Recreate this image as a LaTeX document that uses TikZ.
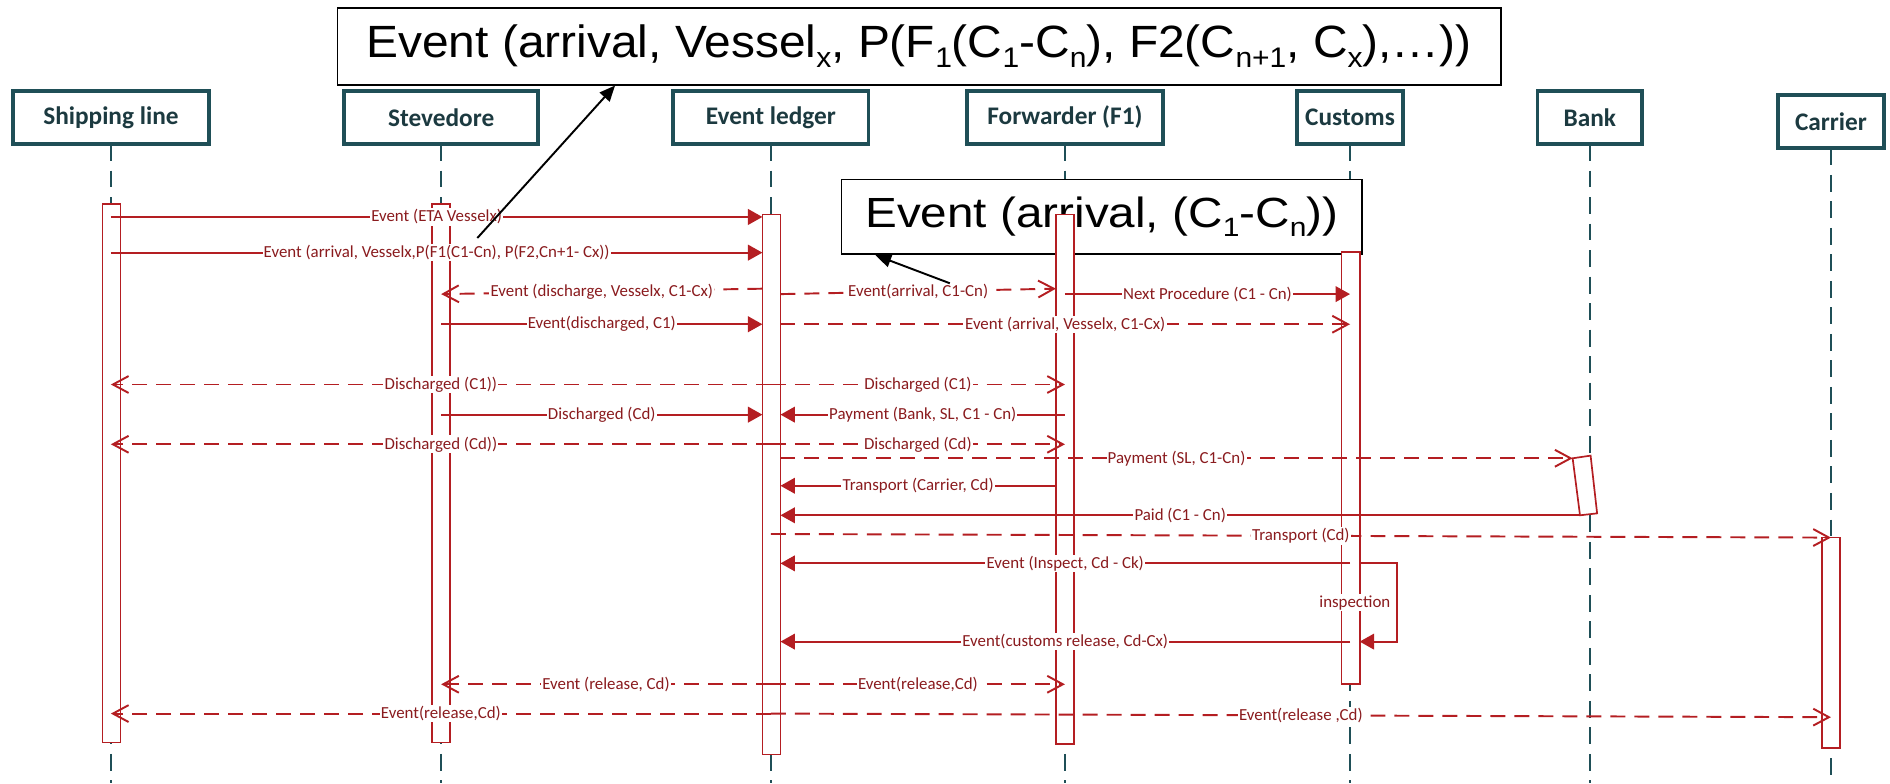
\documentclass[tikz,border=0pt]{standalone}
\usepackage{fontspec}
\setmainfont{Carlito}
\newfontfamily\notefont[FakeStretch=1.06]{Liberation Sans}
\newfontfamily\smallnotefont[FakeStretch=1.13]{Liberation Sans}
\usetikzlibrary{arrows.meta,calc}

\definecolor{actorteal}{HTML}{1F4F57}
\definecolor{actortext}{HTML}{1C3A40}
\definecolor{msgred}{HTML}{B41E22}
\definecolor{msgtext}{HTML}{8A1B1E}

% lowered, reduced index for the note texts
\newcommand{\idx}[2]{\raisebox{-0.22em}{\fontsize{#1}{#1}\selectfont #2}}

\tikzset{
  actor/.style={draw=actorteal, line width=3.2pt, fill=white, minimum height=44pt,
    inner sep=0pt, outer sep=0pt, text=actortext, font=\fontsize{21}{24}\selectfont\bfseries},
  lifeline/.style={draw=actorteal, line width=1.3pt, dash pattern=on 14pt off 8pt},
  actbar/.style={draw=msgred, line width=1.4pt, fill=white, minimum width=15pt,
    inner sep=0pt, outer sep=0pt, anchor=north},
  sync/.style={draw=msgred, line width=1.6pt, -{Triangle[length=12pt,width=13pt]}},
  reply/.style={draw=msgred, line width=1.6pt, dash pattern=on 12.4pt off 7.5pt,
    -{Straight Barb[length=13pt,width=14pt,line width=1.6pt]}},
  lbl/.style={fill=white, text=msgtext, font=\fontsize{14}{16}\selectfont, inner sep=1pt},
  notebox/.style={draw=black, line width=1.4pt, fill=white, inner sep=0pt},
  callout/.style={draw=black, line width=1.6pt, -{Triangle[length=13pt,width=11pt]}},
}

\begin{document}
\begin{tikzpicture}[x=1pt,y=-1pt]
\useasboundingbox (0,0) rectangle (1568,650);
\coordinate (bottom) at (0,650);

% participants
\node[actor, minimum width=163pt] (ship)    at (92,97.5)   {Shipping line};
\node[actor, minimum width=161pt] (steve)   at (366,97.5)  {Stevedore};
\node[actor, minimum width=162pt] (ledger)  at (639.5,97.5){Event ledger};
\node[actor, minimum width=162pt] (fwd)     at (883.5,97.5){Forwarder (F1)};
\node[actor, minimum width=88pt]  (cust)    at (1120,97.5) {Customs};
\node[actor, minimum width=87pt]  (bank)    at (1319,97.5) {Bank};
\node[actor, minimum width=88pt]  (carrier) at (1519,101)  {Carrier};

% lifelines
\foreach \a in {ship,steve,ledger,fwd,cust,bank,carrier}
  \draw[lifeline] (\a.south) -- (\a.south |- bottom);

% note on the forwarder side
\node[notebox, minimum width=432pt, minimum height=62pt] (note2) at (914,180)
  {\smallnotefont\fontsize{35}{35}\selectfont Event (arrival, (C\idx{22}{1}-C\idx{22}{n}))};

% activation bars
\node[actbar, minimum height=447pt]   (shipbar)    at (92.5,169) {};
\node[actbar, minimum height=447pt]   (stevebar)   at (366,169)  {};
\node[actbar, minimum height=448pt]   (ledgerbar)  at (640,178)  {};
\node[actbar, minimum height=439pt]   (fwdbar)     at (883.5,178){};
\node[actbar, minimum height=358.5pt] (custbar)    at (1120.5,209){};
\node[actbar, minimum height=174.5pt] (carrierbar) at (1519,446) {};
\coordinate (bankTL) at (1304.7,380.2);
\coordinate (bankTR) at (1319.6,378);
\coordinate (bankBR) at (1325,425.9);
\coordinate (bankBL) at (1310.8,427.5);
\draw[draw=msgred, line width=1.4pt, fill=white] (bankTL) -- (bankTR) -- (bankBR) -- (bankBL) -- cycle;

% message rows
\coordinate (y1)  at (0,180);
\coordinate (y2)  at (0,209.6);
\coordinate (y3a) at (0,239.5);
\coordinate (y3b) at (0,244);
\coordinate (y5)  at (0,269);
\coordinate (y6)  at (0,319);
\coordinate (y7)  at (0,344);
\coordinate (y8)  at (0,368.6);
\coordinate (y10) at (0,403);
\coordinate (y12a) at (0,443);
\coordinate (y12b) at (0,446);
\coordinate (y13) at (0,467.4);
\coordinate (y14) at (0,532.3);
\coordinate (y15) at (0,567.7);
\coordinate (y16a) at (0,592);
\coordinate (y16b) at (0,595);
\coordinate (loopx) at (1159,0);

% messages
\draw[sync] (ship |- y1) -- node[lbl]{Event (ETA Vesselx)} (ledgerbar.west |- y1);
\draw[sync] (ship |- y2) -- node[lbl]{Event (arrival, Vesselx,P(F1(C1-Cn), P(F2,Cn+1- Cx))} (ledgerbar.west |- y2);
\draw[reply] (ledgerbar.west |- y3a) -- node[lbl]{Event (discharge, Vesselx, C1-Cx)} (steve |- y3b);
\draw[reply] (ledgerbar.east |- y3b) -- node[lbl]{Event(arrival, C1-Cn)} (fwdbar.west |- y3a);
\draw[sync] (fwd |- y3b) -- node[lbl]{Next Procedure (C1 - Cn)} (cust |- y3b);
\draw[sync] (steve |- y5) -- node[lbl]{Event(discharged, C1)} (ledgerbar.west |- y5);
\draw[reply] (ledgerbar.east |- y5) -- node[lbl]{Event (arrival, Vesselx, C1-Cx)} (cust |- y5);
\draw[reply] (ledger |- y6) -- node[lbl]{Discharged (C1))} (ship |- y6);
\draw[reply] (ledger |- y6) -- node[lbl]{Discharged (C1)} (fwd |- y6);
\draw[sync] (steve |- y7) -- node[lbl]{Discharged (Cd)} (ledgerbar.west |- y7);
\draw[sync] (fwd |- y7) -- node[lbl]{Payment (Bank, SL, C1 - Cn)} (ledgerbar.east |- y7);
\draw[reply] (ledger |- y8) -- node[lbl]{Discharged (Cd))} (ship |- y8);
\draw[reply] (ledger |- y8) -- node[lbl]{Discharged (Cd)} (fwd |- y8);
\draw[reply] (ledgerbar.east |- bankTL) -- node[lbl]{Payment (SL, C1-Cn)} (bankTL);
\draw[sync] (fwdbar.west |- y10) -- node[lbl]{Transport (Carrier, Cd)} (ledgerbar.east |- y10);
\draw[sync] (bankBL) -- node[lbl]{Paid (C1 - Cn)} (ledgerbar.east |- bankBL);
\draw[reply] (ledger |- y12a) -- node[lbl]{Transport (Cd)} (carrier |- y12b);
\draw[sync] (cust |- y13) -- node[lbl]{Event (Inspect, Cd - Ck)} (ledgerbar.east |- y13);
\draw[sync] (custbar.east |- y13) -- (loopx |- y13) -- (loopx |- y14) -- (custbar.east |- y14);
\node[lbl] (insp) at (1124,500) {inspection};
\draw[sync] (cust |- y14) -- node[lbl]{Event(customs release, Cd-Cx)} (ledgerbar.east |- y14);
\draw[reply] (ledger |- y15) -- node[lbl]{Event (release, Cd)} (steve |- y15);
\draw[reply] (ledger |- y15) -- node[lbl]{Event(release,Cd)} (fwd |- y15);
\draw[reply] (ledger |- y16a) -- node[lbl]{Event(release,Cd)} (ship |- y16a);
\draw[reply] (ledger |- y16a) -- node[lbl]{Event(release ,Cd)} (carrier |- y16b);

% main note and callouts
\node[notebox, minimum width=965pt, minimum height=63.5pt] (note1) at (762.5,38.5)
  {\notefont\fontsize{37.5}{37.5}\selectfont Event (arrival, Vessel\idx{23.5}{x}, P(F\idx{23.5}{1}(C\idx{23.5}{1}-C\idx{23.5}{n}), F2(C\idx{23.5}{n+1}, C\idx{23.5}{x}),\dots))};
\coordinate (c1) at (396,197.5);
\coordinate (c2) at (788,235);
\draw[callout] (c1) -- ($(note1.south west)!0.239!(note1.south east)$);
\draw[callout] (c2) -- ($(note2.south west)!0.067!(note2.south east)$);
\end{tikzpicture}
\end{document}
